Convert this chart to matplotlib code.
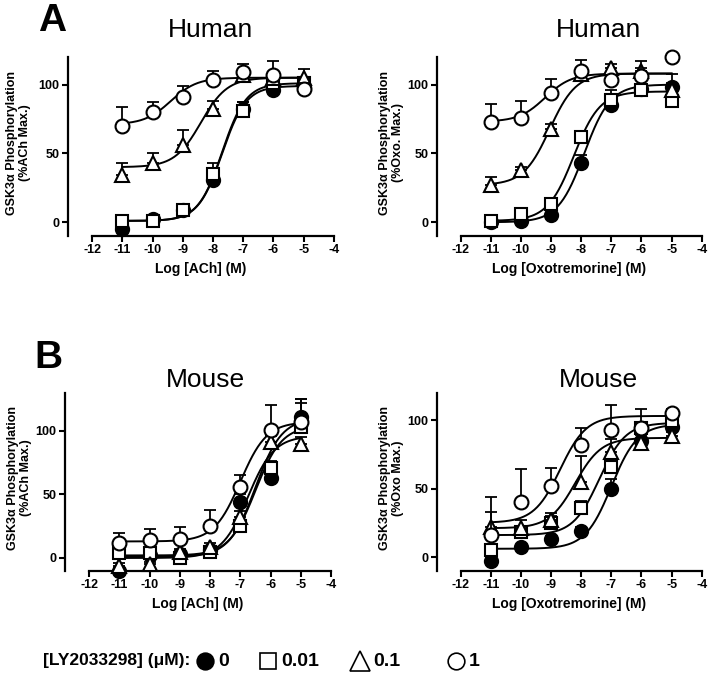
import numpy as np
import matplotlib
matplotlib.use('Agg')
import matplotlib.pyplot as plt
from matplotlib.lines import Line2D

plt.rcParams['font.family'] = ['Liberation Sans', 'DejaVu Sans']
plt.rcParams['axes.unicode_minus'] = False

# log concentrations
log_conc = [-11, -10, -9, -8, -7, -6, -5]
ly_labels = ['0', '0.01', '0.1', '1']

# order of series: 0, 0.01, 0.1, 1 uM LY2033298
human_ach_mean = [[-5, 2, 9, 31, 82, 96, 98],
                  [1, 1, 9, 35, 81, 101, 101],
                  [34, 43, 56, 82, 107, 105, 105],
                  [70, 80, 91, 103, 109, 107, 97]]
human_ach_sem = [[1, 1, 1, 5, 5, 2, 2],
                 [1, 2, 2, 8, 6, 3, 3],
                 [9, 7, 11, 6, 3, 3, 6],
                 [14, 7, 8, 7, 6, 10, 4]]
human_ach_fit = [(1, 99, -7.7, 1.1), (1, 101, -7.7, 1.1),
                 (40, 105, -8.4, 1.0), (71, 105, -9.4, 1.0)]

human_oxo_mean = [[0, 1, 5, 43, 85, 97, 98],
                  [1, 6, 13, 62, 89, 96, 88],
                  [27, 38, 68, 108, 112, 110, 96],
                  [73, 76, 94, 110, 103, 106, 120]]
human_oxo_sem = [[1, 1, 1, 6, 4, 11, 3],
                 [1, 1, 2, 3, 7, 2, 2],
                 [6, 2, 3, 3, 3, 2, 12],
                 [13, 12, 10, 8, 3, 11, 2]]
human_oxo_fit = [(0, 100, -7.9, 1.0), (1, 95, -8.25, 1.0),
                 (27, 108, -9.05, 1.0), (73, 108, -9.2, 1.0)]

mouse_ach_mean = [[-10, 2, 3, 6, 44, 63, 111],
                  [4, 4, 0, 5, 25, 71, 103],
                  [-6, -5, 5, 9, 32, 91, 90],
                  [12, 14, 15, 25, 56, 101, 107]]
mouse_ach_sem = [[2, 2, 2, 3, 6, 5, 14],
                 [3, 3, 2, 3, 5, 5, 19],
                 [2, 2, 2, 3, 5, 5, 5],
                 [8, 9, 9, 13, 9, 19, 18]]
mouse_ach_fit = [(1, 110, -6.5, 1.0), (2, 104, -6.5, 1.0),
                 (0, 96, -6.75, 1.0), (13, 107, -7.0, 1.0)]

mouse_oxo_mean = [[-3, 7, 13, 19, 50, 85, 95],
                  [5, 18, 25, 36, 66, 94, 99],
                  [22, 21, 27, 55, 77, 83, 88],
                  [16, 40, 52, 82, 93, 94, 105]]
mouse_oxo_sem = [[2, 2, 2, 3, 7, 4, 3],
                 [2, 3, 5, 5, 8, 14, 3],
                 [11, 6, 5, 19, 9, 3, 3],
                 [28, 24, 13, 12, 18, 3, 3]]
mouse_oxo_fit = [(6, 97, -7.0, 1.0), (16, 98, -7.4, 1.0),
                 (21, 87, -8.2, 1.0), (25, 103, -8.7, 1.0)]

styles = [dict(marker='o', mfc='black', mec='black', ms=9.5),
          dict(marker='s', mfc='white', mec='black', ms=9),
          dict(marker='^', mfc='white', mec='black', ms=10.5),
          dict(marker='o', mfc='white', mec='black', ms=10)]


def logistic(x, bottom, top, logec50, hill):
    return bottom + (top - bottom) / (1 + 10 ** ((logec50 - x) * hill))


def panel(rect, means, sems, fits, ylim, ylabel, xlabel, label_x):
    ax = fig.add_axes(rect)
    x = np.array(log_conc, dtype=float)
    xs = np.linspace(x.min(), x.max(), 200)
    for i in range(4):
        ax.plot(xs, logistic(xs, *fits[i]), color='black', lw=1.4, zorder=2)
    for i in range(4):
        y = np.array(means[i], dtype=float)
        e = np.array(sems[i], dtype=float)
        ax.errorbar(x, y, yerr=[np.zeros_like(e), e], fmt='none', ecolor='black',
                    elinewidth=1.3, capsize=4.5, capthick=1.3, zorder=3 + 2 * i,
                    clip_on=False)
        ax.plot(x, y, ls='none', mew=1.5, zorder=4 + 2 * i, clip_on=False, **styles[i])
    ax.set_xlim(-12.8, -4)
    ax.set_ylim(*ylim)
    ax.set_xticks(range(-12, -3))
    ax.set_yticks([0, 50, 100])
    for s in ['top', 'right']:
        ax.spines[s].set_visible(False)
    ax.spines['bottom'].set_bounds(-12, -4)
    for s in ['bottom', 'left']:
        ax.spines[s].set_linewidth(1.6)
    ax.tick_params(width=1.5, length=4, pad=2, labelsize=9)
    for t in ax.get_xticklabels() + ax.get_yticklabels():
        t.set_fontweight('bold')
    ax.set_xlabel(xlabel, fontsize=10, fontweight='bold', labelpad=4)
    ax.set_ylabel(ylabel, fontsize=9, fontweight='bold', linespacing=1.1)
    ax.yaxis.set_label_coords(label_x, 0.52)
    return ax


fig = plt.figure(figsize=(7.09, 6.79), dpi=100)
fig.patch.set_facecolor('white')

panel([0.0959, 0.6524, 0.3751, 0.2636], human_ach_mean, human_ach_sem, human_ach_fit,
      (-10, 120), 'GSK3α Phosphorylation\n(%ACh Max.)', 'Log [ACh] (M)', -0.14)
panel([0.616, 0.6524, 0.3737, 0.2636], human_oxo_mean, human_oxo_sem, human_oxo_fit,
      (-10, 120), 'GSK3α Phosphorylation\n(%Oxo. Max.)', 'Log [Oxotremorine] (M)', -0.125)
panel([0.0917, 0.1595, 0.3752, 0.2622], mouse_ach_mean, mouse_ach_sem, mouse_ach_fit,
      (-10, 130), 'GSK3α Phosphorylation\n(%ACh Max.)', 'Log [ACh] (M)', -0.125)
panel([0.616, 0.1595, 0.3737, 0.2622], mouse_oxo_mean, mouse_oxo_sem, mouse_oxo_fit,
      (-10, 120), 'GSK3α Phosphorylation\n(%Oxo Max.)', 'Log [Oxotremorine] (M)', -0.125)

W, H = 709.0, 679.0
fig.text(52 / W, 1 - 21 / H, 'A', fontsize=28, fontweight='bold', ha='center', va='center')
fig.text(48 / W, 1 - 358 / H, 'B', fontsize=28, fontweight='bold', ha='center', va='center')
fig.text(211 / W, 1 - 30 / H, 'Human', fontsize=19, ha='center', va='center')
fig.text(598 / W, 1 - 30 / H, 'Human', fontsize=19, ha='center', va='center')
fig.text(205 / W, 1 - 380 / H, 'Mouse', fontsize=19, ha='center', va='center')
fig.text(598 / W, 1 - 380 / H, 'Mouse', fontsize=19, ha='center', va='center')

# legend row
ly = 1 - 661 / H
fig.text(43 / W, ly, '[LY2033298] (μM):', fontsize=12.5, fontweight='bold',
         ha='left', va='center')
leg_marker_x = [205, 268, 360, 456]
leg_sizes = [12, 12, 14, 12]
for i in range(4):
    st = dict(styles[i])
    st['ms'] = leg_sizes[i]
    fig.add_artist(Line2D([leg_marker_x[i] / W], [ly], transform=fig.transFigure,
                          ls='none', mew=1.2, **st))
    fig.text((leg_marker_x[i] + 13) / W, ly, ly_labels[i], fontsize=14, fontweight='bold',
             ha='left', va='center')

fig.savefig('out.png', dpi=100, facecolor='white')
plt.close(fig)
